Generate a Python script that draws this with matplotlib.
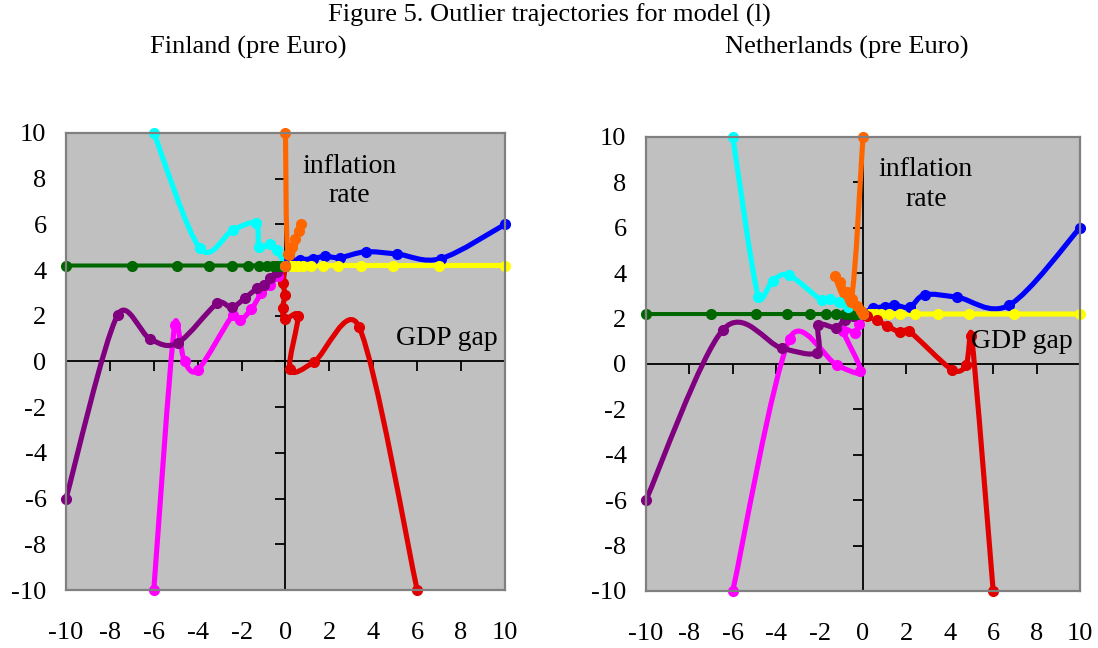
import matplotlib.pyplot as plt
import numpy as np
from matplotlib.path import Path
from matplotlib.patches import PathPatch
from matplotlib.markers import TICKLEFT, TICKDOWN

plt.rcParams['font.family'] = ['Liberation Serif', 'DejaVu Serif']
plt.rcParams['axes.unicode_minus'] = False

# ---- data ----
ticks = [-10, -8, -6, -4, -2, 0, 2, 4, 6, 8, 10]

# horizontal trajectories (same gap values in both countries)
green_x = [-10, -7.0, -4.95, -3.5, -2.45, -1.72, -1.22, -0.85, -0.58, -0.4, -0.27, 0]
yellow_x = [0, 0.27, 0.4, 0.58, 0.82, 1.18, 1.69, 2.4, 3.44, 4.9, 6.98, 10]

# Finland (pre Euro), steady state inflation 4.2
fi_level = 4.2
fi_blue_x = [0, 0.15, 0.65, 1.25, 1.8, 2.5, 3.65, 5.1, 7.08, 10]
fi_blue_y = [4.2, 4.4, 4.45, 4.5, 4.6, 4.55, 4.8, 4.7, 4.5, 6.0]
fi_red_x = [0, -0.1, -0.03, -0.13, -0.03, 0.57, 0.2, 1.3, 3.35, 6.0]
fi_red_y = [4.2, 3.45, 2.9, 2.33, 1.85, 2.0, -0.35, -0.02, 1.52, -10]
fi_magenta_x = [-6, -5.05, -4.6, -4.0, -2.4, -2.05, -1.55, -1.1, -0.7, -0.35, 0]
fi_magenta_y = [-10, 1.6, 0.0, -0.38, 2.03, 1.82, 2.3, 2.98, 3.35, 3.75, 4.2]
fi_purple_x = [-10, -7.65, -6.15, -4.9, -3.1, -2.45, -1.85, -1.3, -1.0, -0.7, -0.4, 0]
fi_purple_y = [-6, 2.03, 0.97, 0.82, 2.55, 2.37, 2.77, 3.2, 3.35, 3.64, 3.93, 4.2]
fi_cyan_x = [-6, -3.9, -2.4, -1.35, -1.2, -0.72, -0.4, 0]
fi_cyan_y = [10, 4.95, 5.75, 6.05, 5.0, 5.15, 4.88, 4.2]
fi_orange_x = [0, 0.12, 0.72, 0.6, 0.45, 0.3, 0.15, 0]
fi_orange_y = [10, 4.7, 6.0, 5.7, 5.35, 5.0, 4.65, 4.2]

# Netherlands (pre Euro), steady state inflation 2.2
nl_level = 2.2
nl_blue_x = [0, 0.45, 1.0, 1.45, 2.15, 2.85, 4.35, 6.75, 10]
nl_blue_y = [2.2, 2.45, 2.52, 2.6, 2.5, 3.05, 2.94, 2.6, 6.0]
nl_red_x = [0, 0.17, 0.63, 1.1, 1.7, 2.1, 4.1, 4.75, 5.0, 6.0]
nl_red_y = [2.2, 2.13, 1.92, 1.69, 1.4, 1.47, -0.25, -0.05, 1.25, -10]
nl_magenta_x = [-6, -3.38, -1.2, -0.12, -0.9, -0.35, -0.2, 0]
nl_magenta_y = [-10, 1.12, -0.05, -0.3, 1.45, 1.38, 1.75, 2.2]
nl_purple_x = [-10, -6.45, -3.75, -2.13, -2.05, -1.25, -0.85, -0.45, 0]
nl_purple_y = [-6, 1.51, 0.7, 0.5, 1.7, 1.6, 1.95, 2.12, 2.25]
nl_cyan_x = [-6, -4.82, -4.15, -3.4, -1.9, -1.52, -1.12, -0.7, 0]
nl_cyan_y = [10, 2.95, 3.67, 3.9, 2.8, 2.86, 2.72, 2.5, 2.2]
nl_orange_x = [0, -0.55, -1.3, -1.05, -0.75, -0.52, -0.29, -0.1, 0]
nl_orange_y = [10, 2.75, 3.88, 3.6, 3.16, 2.86, 2.57, 2.35, 2.2]

c_blue = '#0000ff'
c_yellow = '#ffff00'
c_red = '#e00000'
c_magenta = '#ff00ff'
c_purple = '#800080'
c_green = '#006600'
c_cyan = '#00ffff'
c_orange = '#ff6600'

FS = 19


def clamp(v, lim):
    n = np.hypot(v[0], v[1])
    if n <= lim or n == 0:
        return v
    return v * lim / n


def draw_series(ax, x, y, color, lw=3.7, ms=7):
    # smoothed line like the spreadsheet's "smoothed line" option
    p = np.column_stack([x, y]).astype(float)
    n = len(p)
    verts = [p[0]]
    codes = [Path.MOVETO]
    for i in range(n - 1):
        p0 = p[max(i - 1, 0)]
        p1 = p[i]
        p2 = p[i + 1]
        p3 = p[min(i + 2, n - 1)]
        seg = np.hypot(*(p2 - p1))
        t1 = clamp((p2 - p0) / 6.0, seg / 2)
        t2 = clamp((p3 - p1) / 6.0, seg / 2)
        verts += [p1 + t1, p2 - t2, p2]
        codes += [Path.CURVE4] * 3
    ax.add_patch(PathPatch(Path(verts, codes), fill=False, edgecolor=color,
                           lw=lw, capstyle='round', joinstyle='round', clip_on=False))
    ax.plot(x, y, linestyle='none', marker='o', color=color, ms=ms, clip_on=False)


def setup_axes(ax):
    ax.set_facecolor('#c0c0c0')
    ax.set_xlim(-10, 10)
    ax.set_ylim(-10, 10)
    for s in ax.spines.values():
        s.set_color('#808080')
        s.set_linewidth(1.6)
    ax.set_xticks(ticks)
    ax.set_yticks(ticks)
    ax.set_xticklabels([str(t) for t in ticks])
    ax.set_yticklabels([str(t) for t in ticks])
    ax.tick_params(axis='x', length=0, pad=23, labelsize=FS)
    ax.tick_params(axis='y', length=0, pad=14, labelsize=FS)
    ax.axhline(0, color='black', lw=1.3, zorder=1)
    ax.axvline(0, color='black', lw=1.3, zorder=1)
    ax.plot(ticks, [0] * len(ticks), linestyle='none', marker=TICKDOWN,
            ms=7, mew=1.3, color='black', clip_on=False, zorder=1)
    ax.plot([0] * len(ticks), ticks, linestyle='none', marker=TICKLEFT,
            ms=7, mew=1.3, color='black', clip_on=False, zorder=1)
    ax.text(2.9, 7.9, 'inflation\nrate', ha='center', va='center',
            fontsize=FS + 1, linespacing=1.25)
    ax.text(9.65, 1.0, 'GDP gap', ha='right', va='center', fontsize=FS + 1)


fig = plt.figure(figsize=(10.98, 6.48), dpi=100)
ax1 = fig.add_axes([0.0601, 0.0895, 0.3998, 0.7053])
ax2 = fig.add_axes([0.5883, 0.088, 0.3953, 0.7006])

panels = [
    (ax1, fi_level, fi_blue_x, fi_blue_y, fi_red_x, fi_red_y, fi_magenta_x, fi_magenta_y,
     fi_purple_x, fi_purple_y, fi_cyan_x, fi_cyan_y, fi_orange_x, fi_orange_y),
    (ax2, nl_level, nl_blue_x, nl_blue_y, nl_red_x, nl_red_y, nl_magenta_x, nl_magenta_y,
     nl_purple_x, nl_purple_y, nl_cyan_x, nl_cyan_y, nl_orange_x, nl_orange_y),
]

for (ax, lev, bx, by, rx, ry, mx, my, px, py, cx, cy, ox, oy) in panels:
    setup_axes(ax)
    draw_series(ax, bx, by, c_blue)
    draw_series(ax, yellow_x, [lev] * len(yellow_x), c_yellow)
    draw_series(ax, rx, ry, c_red)
    draw_series(ax, mx, my, c_magenta)
    draw_series(ax, px, py, c_purple)
    draw_series(ax, green_x, [lev] * len(green_x), c_green, lw=2.9)
    draw_series(ax, cx, cy, c_cyan)
    draw_series(ax, ox, oy, c_orange)

fig.text(0.5, 0.976, 'Figure 5. Outlier trajectories for model (l)',
         ha='center', va='center', fontsize=FS)
fig.text(0.226, 0.926, 'Finland (pre Euro)', ha='center', va='center', fontsize=FS)
fig.text(0.771, 0.926, 'Netherlands (pre Euro)', ha='center', va='center', fontsize=FS)

plt.savefig('out.png', dpi=100)
